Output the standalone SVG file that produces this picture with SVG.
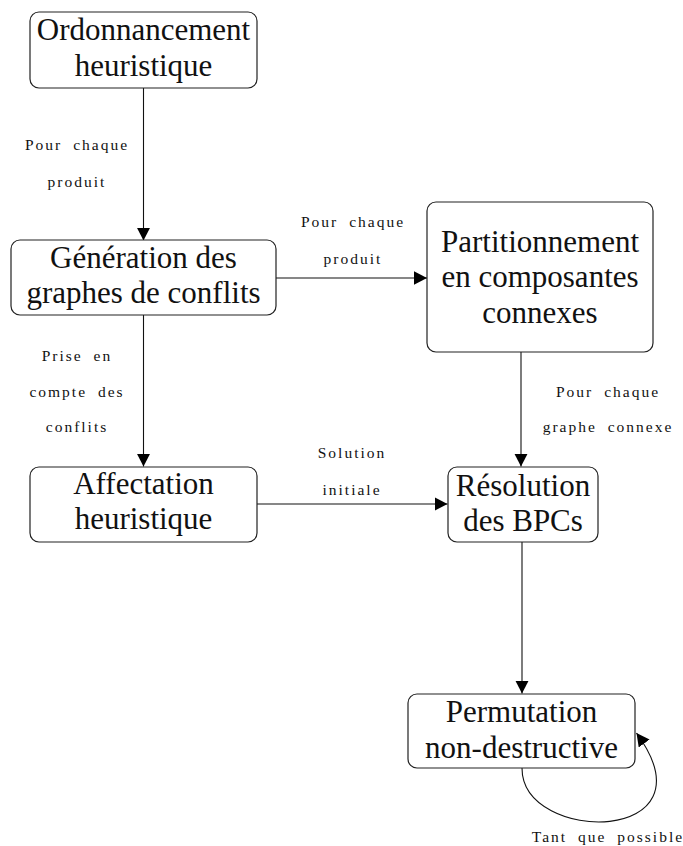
<svg xmlns="http://www.w3.org/2000/svg" width="683" height="846" viewBox="0 0 683 846">
<style>
.box{fill:#fff;stroke:#222;stroke-width:1.2}
.nt{font-family:'Liberation Serif','Times New Roman',serif;font-size:31px;fill:#111;text-anchor:middle}
.lb{font-family:'Liberation Serif','Times New Roman',serif;font-size:15.5px;fill:#111;text-anchor:middle;letter-spacing:2px;word-spacing:5px}
.ed{fill:none;stroke:#111;stroke-width:1.1}
</style>
<defs>
<marker id="ah" markerUnits="userSpaceOnUse" markerWidth="14" markerHeight="14" refX="13" refY="6.7" orient="auto">
<path d="M0,0 L13,6.7 L0,13.4 z" fill="#000"/>
</marker>
</defs>
<rect width="683" height="846" fill="#fff"/>
<g id="edges">
<line class="ed" x1="143.5" y1="88" x2="143.5" y2="240.5" marker-end="url(#ah)"/>
<line class="ed" x1="276" y1="278" x2="427" y2="278" marker-end="url(#ah)"/>
<line class="ed" x1="143.5" y1="315" x2="143.5" y2="466.5" marker-end="url(#ah)"/>
<line class="ed" x1="521" y1="352" x2="521" y2="466.5" marker-end="url(#ah)"/>
<line class="ed" x1="257" y1="504" x2="447.5" y2="504" marker-end="url(#ah)"/>
<line class="ed" x1="522" y1="542" x2="522" y2="693.5" marker-end="url(#ah)"/>
<path class="ed" d="M522,768 C522,845 718,845 636.5,733" marker-end="url(#ah)"/>
</g>
<g id="edge-labels">
<text class="lb" x="77" y="150">Pour chaque</text>
<text class="lb" x="77" y="187">produit</text>
<text class="lb" x="353" y="227">Pour chaque</text>
<text class="lb" x="353" y="264">produit</text>
<text class="lb" x="77" y="361">Prise en</text>
<text class="lb" x="77" y="397">compte des</text>
<text class="lb" x="77" y="432">conflits</text>
<text class="lb" x="608" y="397">Pour chaque</text>
<text class="lb" x="608" y="432">graphe connexe</text>
<text class="lb" x="352" y="458">Solution</text>
<text class="lb" x="352" y="495">initiale</text>
<text class="lb" x="608" y="842">Tant que possible</text>
</g>
<g id="n1">
<rect class="box" x="30" y="12" width="227" height="76" rx="9"/>
<text class="nt" x="143.5" y="40">Ordonnancement</text>
<text class="nt" x="143.5" y="76">heuristique</text>
</g>
<g id="n2">
<rect class="box" x="11" y="240" width="265" height="75" rx="9"/>
<text class="nt" x="143.5" y="268">Génération des</text>
<text class="nt" x="143.5" y="303">graphes de conflits</text>
</g>
<g id="n3">
<rect class="box" x="427" y="202" width="226" height="150" rx="9"/>
<text class="nt" x="540" y="252">Partitionnement</text>
<text class="nt" x="540" y="287">en composantes</text>
<text class="nt" x="540" y="323">connexes</text>
</g>
<g id="n4">
<rect class="box" x="30" y="467" width="227" height="75" rx="9"/>
<text class="nt" x="143.5" y="494">Affectation</text>
<text class="nt" x="143.5" y="529">heuristique</text>
</g>
<g id="n5">
<rect class="box" x="448" y="467" width="150" height="75" rx="9"/>
<text class="nt" x="523" y="496">Résolution</text>
<text class="nt" x="523" y="531">des BPCs</text>
</g>
<g id="n6">
<rect class="box" x="408" y="694" width="227" height="74" rx="9"/>
<text class="nt" x="521.5" y="722">Permutation</text>
<text class="nt" x="521.5" y="758">non-destructive</text>
</g>
</svg>
